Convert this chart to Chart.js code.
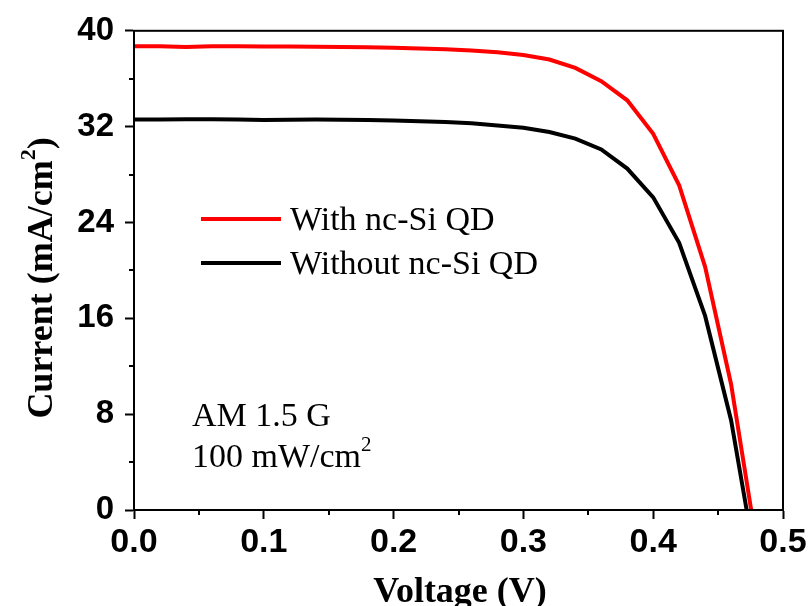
<!DOCTYPE html>
<html>
<head>
<meta charset="utf-8">
<script src="https://cdn.jsdelivr.net/npm/chart.js@4.4.1/dist/chart.umd.min.js"></script>
<style>
  html, body { margin: 0; padding: 0; background: #ffffff; }
  #wrap { width: 811px; height: 606px; position: relative; }
</style>
</head>
<body>
<div id="wrap"><canvas id="c" width="811" height="606"></canvas></div>
<script>
// ---- data ----
const seriesLabels = ['With nc-Si QD', 'Without nc-Si QD'];
const seriesColors = ['#ff0000', '#000000'];

const voltageWith = [0, 0.02, 0.04, 0.06, 0.08, 0.10, 0.12, 0.14, 0.16, 0.18, 0.20, 0.22, 0.24, 0.26, 0.28, 0.30, 0.32, 0.34, 0.36, 0.38, 0.40, 0.42, 0.44, 0.46, 0.4755];
const currentWith = [38.7, 38.7, 38.65, 38.7, 38.7, 38.68, 38.68, 38.66, 38.65, 38.62, 38.58, 38.52, 38.45, 38.35, 38.2, 37.98, 37.6, 36.9, 35.8, 34.2, 31.4, 27.1, 20.3, 10.5, 0];

const voltageWithout = [0, 0.02, 0.04, 0.06, 0.08, 0.10, 0.12, 0.14, 0.16, 0.18, 0.20, 0.22, 0.24, 0.26, 0.28, 0.30, 0.32, 0.34, 0.36, 0.38, 0.40, 0.42, 0.44, 0.46, 0.472];
const currentWithout = [32.6, 32.6, 32.62, 32.62, 32.6, 32.55, 32.58, 32.6, 32.58, 32.56, 32.52, 32.46, 32.38, 32.28, 32.1, 31.9, 31.55, 31.0, 30.1, 28.5, 26.1, 22.3, 16.2, 7.5, 0];

const xTickLabels = ['0.0', '0.1', '0.2', '0.3', '0.4', '0.5'];
const yTickLabels = ['0', '8', '16', '24', '32', '40'];

const xTitle = 'Voltage (V)';
const yTitleParts = ['Current (mA/cm', '2', ')'];
const noteLine1 = 'AM 1.5 G';
const noteLine2Parts = ['100 mW/cm', '2'];

// ---- chart ----
const SERIF = '"Liberation Serif", "Times New Roman", serif';
const SANS = '"Liberation Sans", Arial, sans-serif';

function toPoints(xs, ys) { return xs.map((x, i) => ({ x: x, y: ys[i] })); }

const isMajorX = v => Math.abs(v * 10 - Math.round(v * 10)) < 1e-6;
const isMajorY = v => Math.abs(v / 8 - Math.round(v / 8)) < 1e-6;

function drawParts(ctx, parts, x, y, bigFont, smallFont, raise) {
  let cx = x;
  parts.forEach((p, i) => {
    const sup = i % 2 === 1;
    ctx.font = sup ? smallFont : bigFont;
    ctx.fillText(p, cx, sup ? y - raise : y);
    cx += ctx.measureText(p).width;
  });
}
function partsWidth(ctx, parts, bigFont, smallFont) {
  let w = 0;
  parts.forEach((p, i) => {
    ctx.font = (i % 2 === 1) ? smallFont : bigFont;
    w += ctx.measureText(p).width;
  });
  return w;
}

const decorPlugin = {
  id: 'decor',
  afterDraw(chart) {
    const ctx = chart.ctx;
    const a = chart.chartArea;
    const xs = chart.scales.x, ys = chart.scales.y;
    ctx.save();
    // frame
    ctx.strokeStyle = '#000';
    ctx.lineWidth = 2;
    ctx.strokeRect(a.left, a.top, a.right - a.left, a.bottom - a.top);
    // minor ticks
    ctx.beginPath();
    xs.ticks.forEach(t => {
      if (!isMajorX(t.value)) {
        const px = Math.round(xs.getPixelForValue(t.value));
        ctx.moveTo(px, a.bottom); ctx.lineTo(px, a.bottom + 5);
      }
    });
    ys.ticks.forEach(t => {
      if (!isMajorY(t.value)) {
        const py = Math.round(ys.getPixelForValue(t.value));
        ctx.moveTo(a.left, py); ctx.lineTo(a.left - 5, py);
      }
    });
    ctx.stroke();

    // legend
    ctx.textAlign = 'left';
    ctx.textBaseline = 'alphabetic';
    const legY = [219, 263];
    chart.data.datasets.forEach((ds, i) => {
      ctx.strokeStyle = ds.borderColor;
      ctx.lineWidth = 4;
      ctx.beginPath();
      ctx.moveTo(201, legY[i]); ctx.lineTo(281, legY[i]);
      ctx.stroke();
      ctx.fillStyle = '#000';
      ctx.font = '34px ' + SERIF;
      ctx.fillText(ds.label, 290, legY[i] + 11);
    });

    // note
    ctx.fillStyle = '#000';
    ctx.font = '34px ' + SERIF;
    ctx.fillText(noteLine1, 192, 426);
    drawParts(ctx, noteLine2Parts, 192, 467, '34px ' + SERIF, '21px ' + SERIF, 16);

    // x title
    ctx.textAlign = 'center';
    ctx.font = 'bold 36px ' + SERIF;
    ctx.fillText(xTitle, 460, 602);

    // y title
    ctx.save();
    ctx.translate(52, 278);
    ctx.rotate(-Math.PI / 2);
    ctx.textAlign = 'left';
    const big = 'bold 36px ' + SERIF, small = 'bold 22px ' + SERIF;
    const w = partsWidth(ctx, yTitleParts, big, small);
    drawParts(ctx, yTitleParts, -w / 2, 0, big, small, 17);
    ctx.restore();

    ctx.restore();
  }
};

new Chart(document.getElementById('c'), {
  type: 'line',
  data: {
    datasets: [
      { label: seriesLabels[0], data: toPoints(voltageWith, currentWith), borderColor: seriesColors[0], backgroundColor: seriesColors[0], borderWidth: 4, pointRadius: 0, tension: 0, fill: false },
      { label: seriesLabels[1], data: toPoints(voltageWithout, currentWithout), borderColor: seriesColors[1], backgroundColor: seriesColors[1], borderWidth: 4, pointRadius: 0, tension: 0, fill: false }
    ]
  },
  options: {
    responsive: false,
    animation: false,
    devicePixelRatio: 1,
    layout: { padding: { top: 28, right: 28, left: 0, bottom: 0 } },
    plugins: { legend: { display: false }, tooltip: { enabled: false }, title: { display: false } },
    scales: {
      x: {
        type: 'linear', min: 0, max: 0.5,
        afterFit: s => { s.height = 96; },
        border: { display: true, color: '#000', width: 2 },
        grid: { drawOnChartArea: false, drawTicks: true, tickLength: 9, tickWidth: 2,
                tickColor: c => (c.tick && isMajorX(c.tick.value)) ? '#000' : 'rgba(0,0,0,0)' },
        ticks: {
          stepSize: 0.05, autoSkip: false, maxRotation: 0, minRotation: 0, padding: 3,
          color: '#000', font: { family: SANS, weight: 'bold', size: 34 },
          callback: v => isMajorX(v) ? xTickLabels[Math.round(v * 10)] : ''
        }
      },
      y: {
        type: 'linear', min: 0, max: 40,
        afterFit: s => { s.width = 134; },
        border: { display: true, color: '#000', width: 2 },
        grid: { drawOnChartArea: false, drawTicks: true, tickLength: 9, tickWidth: 2,
                tickColor: c => (c.tick && isMajorY(c.tick.value)) ? '#000' : 'rgba(0,0,0,0)' },
        ticks: {
          stepSize: 4, autoSkip: false, padding: 11,
          color: '#000', font: { family: SANS, weight: 'bold', size: 33 },
          callback: v => isMajorY(v) ? yTickLabels[Math.round(v / 8)] : ''
        }
      }
    }
  },
  plugins: [decorPlugin]
});
</script>
</body>
</html>
